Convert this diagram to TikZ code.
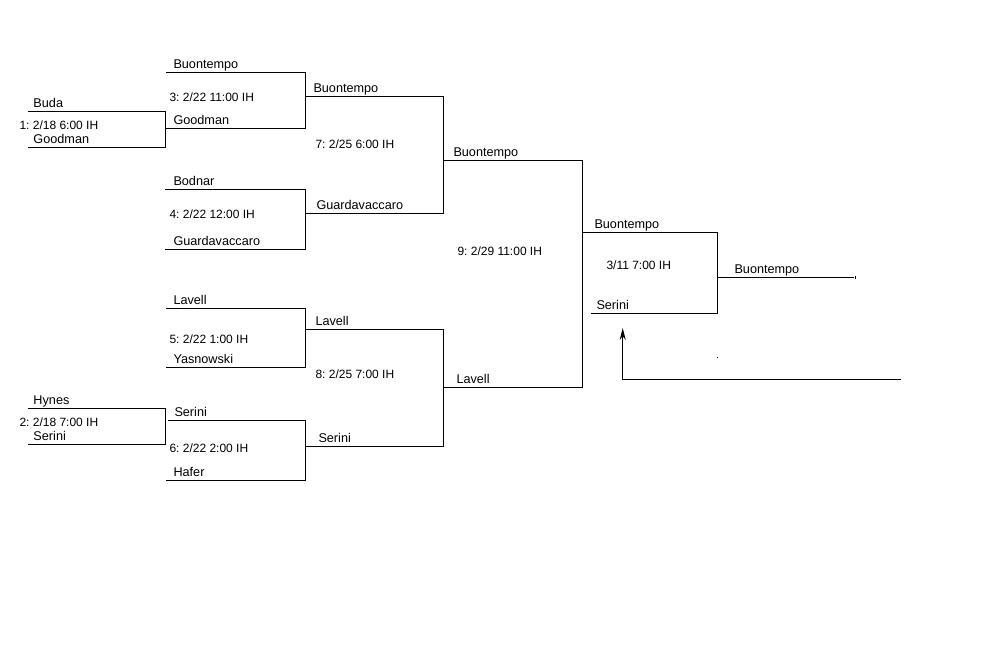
\documentclass[tikz,border=0pt]{standalone}
\usepackage{fontspec}
\setmainfont{Liberation Sans}
\usetikzlibrary{positioning, arrows.meta}

\begin{document}
\frenchspacing
\begin{tikzpicture}[x=0.75pt, y=-0.75pt, line width=0.75pt, line cap=rect,
    team/.style={anchor=base west, inner sep=0pt, font=\fontsize{9.5}{11}\selectfont},
    game/.style={anchor=base west, inner sep=0pt, font=\fontsize{9}{11}\selectfont}]
    \useasboundingbox (0,0) rectangle (992,646);

    % Draw slot lines and team names
    \foreach \i/\xa/\xb/\y/\xt/\t in {1/28/165/111/33/Buda, 2/28/165/147/33/Goodman, 3/28/165/408/33/Hynes, 4/28/165/444/33/Serini,
      5/166/305/72/173/Buontempo, 6/165/305/128/173/Goodman, 7/165/305/189/173/Bodnar, 8/165/305/249/173/Guardavaccaro,
      9/166/305/308/173/Lavell, 10/166/305/367/173/Yasnowski, 11/168/305/420/174/Serini, 12/166/305/480/173/Hafer,
      13/305/443/96/313/Buontempo, 14/305/443/213/316/Guardavaccaro, 15/305/443/329/315/Lavell, 16/305/443/446/318/Serini,
      17/443/582/160/453/Buontempo, 18/443/582/387/456/Lavell,
      19/582/717/232/594/Buontempo, 20/591/717/313/596/Serini,
      21/717/853/277/734/Buontempo} {
      \coordinate (l\i) at (\xa,\y);
      \coordinate (r\i) at (\xb,\y);
      \draw (l\i) -- (r\i);
      \node[team] (t\i) at (\xt,\y-3.8) {\t};
    }

    % Join the two slots of each game
    \foreach \u/\l in {1/2, 3/4, 5/6, 7/8, 9/10, 11/12, 13/14, 15/16, 17/18, 19/20} {
      \draw (r\u) -- (r\l);
    }

    % Game numbers, dates and times
    \foreach \i/\x/\y/\g in {1/19/129/{1: 2/18 6:00 IH}, 2/19/426/{2: 2/18 7:00 IH},
      3/169/101/{3: 2/22 11:00 IH}, 4/169/218/{4: 2/22 12:00 IH}, 5/169/343/{5: 2/22 1:00 IH}, 6/169/452/{6: 2/22 2:00 IH},
      7/315/148/{7: 2/25 6:00 IH}, 8/315/378/{8: 2/25 7:00 IH},
      9/457/255/{9: 2/29 11:00 IH}, 10/606/269/{3/11 7:00 IH}} {
      \node[game] (g\i) at (\x,\y) {\g};
    }

    % Return arrow
    \coordinate (ret) at (901,379);
    \coordinate (bend) at (622.7,379);
    \coordinate (tip) at (622.7,328);
    \draw[line cap=butt, -{Stealth[length=9pt, width=4.5pt]}] (ret) -- (bend) -- (tip);

    % Stray marks
    \draw[line cap=butt] (855,275.5) -- (855,278.5);
    \draw[line cap=butt] (716.5,357.7) -- (718,357.7);
\end{tikzpicture}
\end{document}
